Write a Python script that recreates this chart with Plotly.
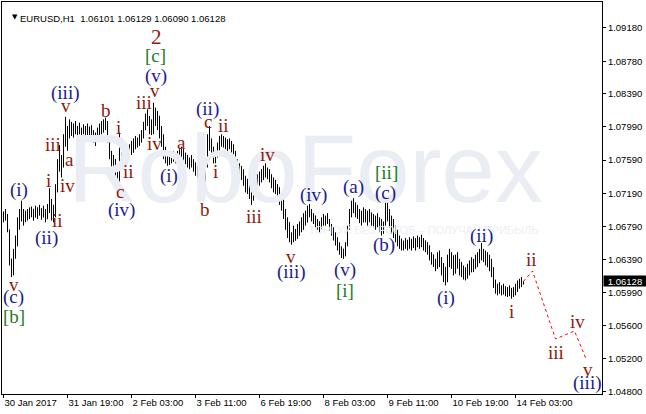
import plotly.graph_objects as go

# ---------------- data (prices in pips above 1.0000) ----------------
open_pips = [
 690,694,688,675,640,630,648,662,685,695,690,694,690,697,692,700,690,701,693,700,
 690,698,688,702,700,690,700,726,755,750,760,785,795,790,800,792,798,795,797,792,
 795,797,791,799,790,794,784,789,795,800,797,805,800,781,764,755,760,742,736,785,
 760,770,762,770,775,768,782,776,784,788,792,802,812,805,795,804,820,805,812,790,
 780,765,760,762,758,765,760,764,768,762,772,760,765,755,760,752,756,744,748,735,
 725,730,755,785,775,770,760,765,776,784,780,785,776,780,774,770,764,752,745,750,
 740,732,736,722,728,712,726,735,730,742,738,748,745,747,736,728,734,722,726,708,
 702,692,680,684,665,668,662,674,668,682,676,692,684,700,694,688,692,680,685,676,
 688,684,690,685,678,672,665,660,655,648,652,645,657,676,697,702,700,704,692,696,
 684,698,688,694,686,692,682,688,680,686,672,682,704,690,682,686,668,674,658,664,
 654,660,655,661,656,662,657,663,658,664,658,662,652,656,640,645,634,638,644,634,
 624,630,612,640,634,644,625,640,632,636,622,628,618,630,624,638,628,642,635,650,
 644,648,636,644,628,622,608,602,606,600,604,599,603,597,604,596,602,607,611,608,
 610.1]
high_pips = [
 697,700,694,675,640,652,668,690,700,710,700,698,700,702,703,700,704,702,705,701,
 704,700,706,725,712,705,730,760,777,765,790,811,800,808,805,803,806,800,804,798,
 802,800,803,799,801,795,792,798,803,806,808,810,806,782,770,765,760,752,792,785,
 775,770,772,778,782,785,788,786,790,795,805,815,820,812,808,828,822,818,812,800,
 790,775,768,765,768,770,766,770,772,775,772,768,765,762,765,760,756,752,748,740,
 735,760,790,800,785,775,770,780,788,790,788,786,784,785,782,778,770,760,755,752,
 748,740,736,732,728,730,738,742,745,748,752,755,750,748,742,738,735,730,726,720,
 712,700,690,684,672,680,676,682,685,690,695,698,704,706,700,695,692,688,685,690,
 694,692,695,688,682,678,672,666,660,655,652,660,680,700,710,713,708,705,700,698,
 702,700,698,700,696,694,692,695,690,688,685,710,708,700,692,688,680,675,668,664,
 662,665,663,666,664,667,665,668,666,669,665,662,660,656,648,645,640,648,650,642,
 635,630,645,652,648,644,645,648,640,636,632,630,634,638,642,640,645,648,652,659,
 652,650,648,645,640,630,615,610,612,608,610,607,606,608,605,606,610,614,616,618,
 612.9]
low_pips = [
 684,686,672,632,618,620,640,655,675,685,680,684,686,688,690,686,690,688,692,687,
 690,684,688,695,686,684,690,720,745,738,750,775,770,785,788,786,790,785,790,786,
 790,788,789,787,788,780,776,783,785,790,792,795,780,760,750,745,738,732,729,755,
 758,757,760,762,765,768,772,774,776,780,785,795,800,790,789,790,800,795,785,775,
 760,755,752,753,755,757,755,758,760,762,758,754,750,748,750,745,740,738,730,720,
 711,725,750,770,762,755,755,762,770,775,774,772,770,772,768,760,748,740,738,735,
 728,720,718,712,705,710,718,725,728,732,735,738,736,732,725,720,718,712,705,698,
 688,675,665,660,657,660,662,664,668,672,675,680,684,690,685,682,678,675,672,676,
 680,680,682,674,668,662,656,650,645,641,640,643,655,675,690,695,690,688,683,680,
 684,684,680,684,680,678,675,678,672,668,670,680,685,678,670,665,660,655,652,650,
 650,652,650,652,650,653,650,654,652,654,650,648,645,638,633,630,625,628,630,620,
 612,608,612,630,628,620,622,628,620,618,615,614,616,620,624,624,628,630,635,638,
 636,632,630,625,618,605,598,596,598,596,597,595,594,595,592,594,596,600,604,606,
 609.0]
close_pips = [
 694,688,675,640,630,648,662,685,695,690,694,690,697,692,700,690,701,693,700,690,
 698,688,702,700,690,700,726,755,750,760,785,795,790,800,792,798,795,797,792,795,
 797,791,799,790,794,784,789,795,800,797,805,800,781,764,755,760,742,736,785,760,
 770,762,770,775,768,782,776,784,788,792,802,812,805,795,804,820,805,812,790,780,
 765,760,762,758,765,760,764,768,762,772,760,765,755,760,752,756,744,748,735,725,
 730,755,785,775,770,760,765,776,784,780,785,776,780,774,770,764,752,745,750,740,
 732,736,722,728,712,726,735,730,742,738,748,745,747,736,728,734,722,726,708,702,
 692,680,684,665,668,662,674,668,682,676,692,684,700,694,688,692,680,685,676,688,
 684,690,685,678,672,665,660,655,648,652,645,657,676,697,702,700,704,692,696,684,
 698,688,694,686,692,682,688,680,686,672,682,704,690,682,686,668,674,658,664,654,
 660,655,661,656,662,657,663,658,664,658,662,652,656,640,645,634,638,644,634,624,
 630,612,640,634,644,625,640,632,636,622,628,618,630,624,638,628,642,635,650,644,
 648,636,644,628,622,608,602,606,600,604,599,603,597,604,596,602,607,611,608,610,
 612.8]

tick_bars = [0, 32, 64, 96, 128, 160, 192, 224, 256]
tick_labels = ["30 Jan 2017", "31 Jan 19:00", "2 Feb 03:00", "3 Feb 11:00",
               "6 Feb 19:00", "8 Feb 03:00", "9 Feb 11:00", "10 Feb 19:00",
               "14 Feb 03:00"]
price_ticks = [1.09180, 1.08780, 1.08390, 1.07990, 1.07590, 1.07190,
               1.06790, 1.06390, 1.05990, 1.05600, 1.05200, 1.04800]

# forecast path (dotted red)
forecast_bar = [260, 264.5, 276, 285.5, 291.5]
forecast_price = [1.06128, 1.06254, 1.05435, 1.05531, 1.05182]

# Elliott wave labels: text, bar position, price, degree
wave_text = ["(i)", "i", "iii", "a", "iv", "ii", "(ii)", "v", "(iii)", "b",
             "i", "iii", "v", "(v)", "[c]", "2", "iv", "ii", "c", "(iv)",
             "(i)", "a", "b", "(ii)", "c", "ii", "i", "iii", "iv", "v",
             "(iii)", "(iv)", "(v)", "[i]", "(a)", "[ii]", "(c)", "(b)", "(i)", "(ii)",
             "i", "ii", "iii", "iv", "v", "(iii)", "v", "(c)", "[b]"]
wave_bar = [7.5, 22.5, 24.5, 33, 32, 27, 21.5, 31, 31, 51,
            57.5, 70, 75.5, 76, 76, 76.5, 75.5, 62.5, 58, 59,
            82.5, 89, 100.5, 102, 102, 110, 106, 125, 132, 143.5,
            144, 155, 170.5, 170.5, 175, 191.5, 191, 190, 221, 239,
            254, 264, 276, 287, 292, 292, 5, 5, 5]
wave_price = [1.07229, 1.07349, 1.07771, 1.07602, 1.07289, 1.06856, 1.06651, 1.08241, 1.08397, 1.08192,
              1.07976, 1.08277, 1.08433, 1.08602, 1.08843, 1.09072, 1.07783, 1.07446, 1.07205, 1.06988,
              1.07398, 1.07795, 1.07000, 1.08205, 1.08048, 1.08000, 1.07446, 1.06904, 1.07651, 1.06434,
              1.06242, 1.07169, 1.06266, 1.06013, 1.07265, 1.07434, 1.07193, 1.06567, 1.05928, 1.06675,
              1.05760, 1.06386, 1.05266, 1.05651, 1.05073, 1.04905, 1.06085, 1.05940, 1.05700]
wave_degree = ["n", "m", "m", "m", "m", "m", "n", "m", "n", "m",
               "m", "m", "m", "n", "g", "p", "m", "m", "m", "n",
               "n", "m", "m", "n", "m", "m", "m", "m", "m", "m",
               "n", "n", "n", "g", "n", "g", "n", "n", "n", "n",
               "m", "m", "m", "m", "m", "n", "m", "n", "g"]

header_text = "EURUSD,H1  1.06101 1.06129 1.06090 1.06128"
last_price = 1.06128

# ---------------- figure ----------------
bars = list(range(len(close_pips)))
to_price = lambda seq: [1 + v / 10000 for v in seq]

degree_color = {"m": "#8e1b0b", "n": "#1c1c8c", "g": "#1f7a1f", "p": "#8e1b0b"}
degree_size = {"m": 19, "n": 19, "g": 19, "p": 21}

fig = go.Figure()

# watermark (drawn first so bars sit over it)
fig.add_trace(go.Scatter(x=[151], y=[1.0737], mode="text", text=["RoboForex"],
                         textfont=dict(family="Liberation Sans", size=96, color="#eaedf3"),
                         hoverinfo="skip", showlegend=False))
fig.add_trace(go.Scatter(x=[210], y=[1.06735], mode="text",
                         text=["ТОРГУЙ БЕЗ РОГОВ – ПОЛУЧАЙ ПРИБЫЛЬ"],
                         textfont=dict(family="Liberation Sans", size=11, color="#eceff4"),
                         hoverinfo="skip", showlegend=False))

fig.add_trace(go.Ohlc(x=bars, open=to_price(open_pips), high=to_price(high_pips),
                      low=to_price(low_pips), close=to_price(close_pips),
                      increasing=dict(line=dict(color="black", width=1)),
                      decreasing=dict(line=dict(color="black", width=1)),
                      tickwidth=0.25, hoverinfo="skip", showlegend=False))

fig.add_trace(go.Scatter(x=forecast_bar, y=forecast_price, mode="lines",
                         line=dict(color="#ff0000", width=1, dash="dot"),
                         hoverinfo="skip", showlegend=False))

annotations = []
for t, b, p, d in zip(wave_text, wave_bar, wave_price, wave_degree):
    annotations.append(dict(x=b, y=p, xref="x", yref="y", text=t, showarrow=False,
                            font=dict(family="Liberation Serif", size=degree_size[d],
                                      color=degree_color[d])))

# header
annotations.append(dict(x=0.0125, y=0.977, xref="paper", yref="paper", text="▼",
                        showarrow=False, font=dict(family="DejaVu Sans", size=7, color="black")))
annotations.append(dict(x=0.0267, y=0.977, xref="paper", yref="paper", text=header_text,
                        showarrow=False, xanchor="left",
                        font=dict(family="Liberation Sans", size=9.5, color="black")))
# current price box
annotations.append(dict(x=1, y=last_price, xref="paper", yref="y", text="1.06128",
                        showarrow=False, xanchor="left", xshift=1, bgcolor="black",
                        width=42, height=10, borderpad=0,
                        font=dict(family="Liberation Sans", size=9.5, color="white")))

fig.update_layout(
    template="none",
    width=646, height=414,
    margin=dict(l=2, r=44, t=2, b=20, autoexpand=False),
    paper_bgcolor="white", plot_bgcolor="white",
    showlegend=False, hovermode=False,
    annotations=annotations,
    xaxis=dict(range=[-0.75, 299.25], showgrid=False, zeroline=False, automargin=False,
               showline=True, linecolor="black", linewidth=1, mirror=True,
               tickmode="array", tickvals=tick_bars, ticktext=tick_labels, tickangle=0,
               ticks="outside", ticklen=3, tickcolor="black", tickwidth=1,
               ticklabelposition="outside right",
               tickfont=dict(family="Liberation Sans", size=9.5, color="black"),
               rangeslider=dict(visible=False), fixedrange=True),
    yaxis=dict(range=[1.04772, 1.09493], side="right", showgrid=False, zeroline=False,
               automargin=False,
               showline=True, linecolor="black", linewidth=1, mirror=True,
               tickmode="array", tickvals=price_ticks,
               ticktext=[f"{v:.5f}" for v in price_ticks],
               ticks="outside", ticklen=3, tickcolor="black", tickwidth=1,
               tickfont=dict(family="Liberation Sans", size=9.5, color="black"),
               fixedrange=True),
)

fig.write_html("out.html", config={"displayModeBar": False},
               post_script="document.body.style.margin='0px';document.body.style.overflow='hidden';")
